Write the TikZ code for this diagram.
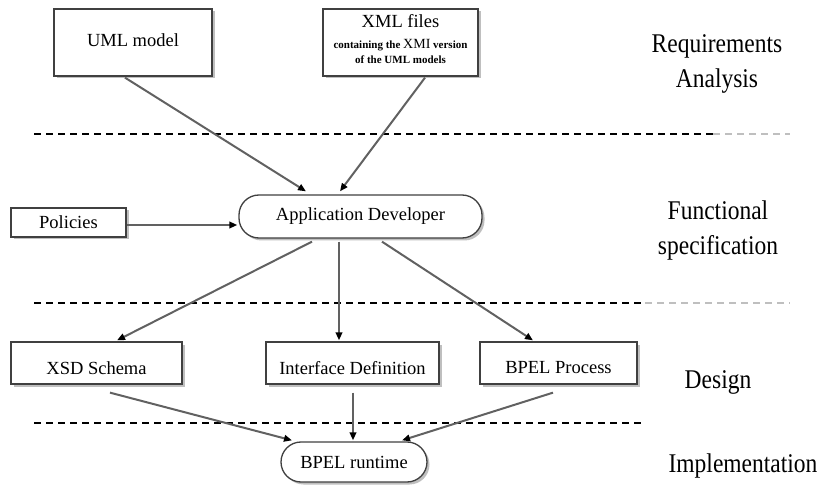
\documentclass[tikz,border=0pt]{standalone}
\usepackage{fontspec}
\setmainfont{Liberation Serif}
\usetikzlibrary{arrows.meta,shadows}
\newcommand{\tallline}[1]{\scalebox{1}[1.15]{#1}}
\begin{document}
\begin{tikzpicture}[x=1pt,y=-1pt,
  boxfont/.style={font=\fontsize{18.5}{20}\selectfont},
  bx/.style={draw=black!75,line width=1.3pt,fill=white,boxfont,inner sep=0pt,
    drop shadow={shadow xshift=2.5pt,shadow yshift=-2.5pt,fill=black!25,opacity=1}},
  pill/.style={bx,rounded corners=20pt},
  conn/.style={draw=black!62,line width=2pt,-{Triangle[length=8pt,width=6.5pt,color=black]}},
  sep/.style={draw=black,line width=1.4pt,dash pattern=on 7pt off 5pt},
  sepl/.style={draw=black!25,line width=1.2pt,dash pattern=on 7pt off 5pt},
  phase/.style={font=\fontsize{23.5}{35}\selectfont,align=center,inner sep=0pt}
]
\useasboundingbox (0,0) rectangle (823,492);

% boxes
\node[bx,minimum width=158pt,minimum height=67pt] (uml) at (133,42.5) {};
\node[boxfont] (umlt) at (133,40) {UML model};
\node[bx,minimum width=155pt,minimum height=67pt] (xml) at (400.5,42.5) {};
\node[boxfont] (xmlt) at (400.5,21) {XML files};
\node[font=\fontsize{11}{12}\selectfont\bfseries,inner sep=0pt] (xmlb) at (400.5,45)
  {containing the {\fontsize{14}{14}\selectfont\mdseries XMI} version};
\node[font=\fontsize{11}{12}\selectfont\bfseries,inner sep=0pt] (xmlc) at (400.5,60)
  {of the UML models};

\node[bx,minimum width=115pt,minimum height=29pt] (pol) at (68.5,222.5) {Policies};
\node[pill,minimum width=243pt,minimum height=43pt] (app) at (360.5,216.5) {Application Developer};

\node[bx,minimum width=171pt,minimum height=42pt] (xsd) at (96.5,363) {};
\node[boxfont] (xsdt) at (96.5,368) {XSD Schema};
\node[bx,minimum width=173pt,minimum height=42pt] (ifc) at (352.5,363) {};
\node[boxfont] (ifct) at (352.5,368) {Interface Definition};
\node[bx,minimum width=157pt,minimum height=42pt] (bpp) at (558.5,363) {};
\node[boxfont] (bppt) at (558.5,368) {BPEL Process};

\node[pill,minimum width=146pt,minimum height=40pt] (run) at (354,462) {BPEL runtime};

% phase labels
\node[phase] (ph1) at (717,64) {\tallline{Requirements}\\\tallline{Analysis}};
\node[phase] (ph2) at (718,231) {\tallline{Functional}\\\tallline{specification}};
\node[phase] (ph3) at (718,382) {\tallline{Design}};
\node[phase] (ph4) at (743,466) {\tallline{Implementation}};

% separators
\coordinate (s1a) at (34,134); \coordinate (s1b) at (713,134); \coordinate (s1c) at (790,134);
\coordinate (s2a) at (34,303); \coordinate (s2b) at (645,303); \coordinate (s2c) at (790,303);
\coordinate (s3a) at (34,423); \coordinate (s3b) at (645,423);
\draw[sep] (s1a) -- (s1b);
\draw[sepl] (s1b) -- (s1c);
\draw[sep] (s2a) -- (s2b);
\draw[sepl] (s2b) -- (s2c);
\draw[sep] (s3a) -- (s3b);

% connectors
\draw[conn] ([xshift=-8pt,yshift=-1pt]uml.south) -- ([xshift=-54.5pt,yshift=3pt]app.north);
\draw[conn] ([xshift=24.5pt,yshift=-1pt]xml.south) -- ([xshift=-20.5pt,yshift=3pt]app.north);
\draw[conn] ([yshift=-2.5pt]pol.east) -- ([xshift=-1pt,yshift=-8.5pt]app.west);
\draw[conn] ([xshift=-48.5pt,yshift=-3pt]app.south) -- ([xshift=20.5pt,yshift=1pt]xsd.north);
\draw[conn] ([xshift=-21.5pt,yshift=-3pt]app.south) -- ([xshift=-13.5pt,yshift=1pt]ifc.north);
\draw[conn] ([xshift=21.5pt,yshift=-3pt]app.south) -- ([xshift=-25.5pt,yshift=1pt]bpp.north);
\draw[conn] ([xshift=13.5pt,yshift=-8pt]xsd.south) -- ([xshift=-62pt,yshift=1pt]run.north);
\draw[conn] ([xshift=0.5pt,yshift=-8pt]ifc.south) -- ([xshift=-1pt,yshift=1pt]run.north);
\draw[conn] ([xshift=-5.5pt,yshift=-8pt]bpp.south) -- ([xshift=48pt,yshift=1pt]run.north);
\end{tikzpicture}
\end{document}
